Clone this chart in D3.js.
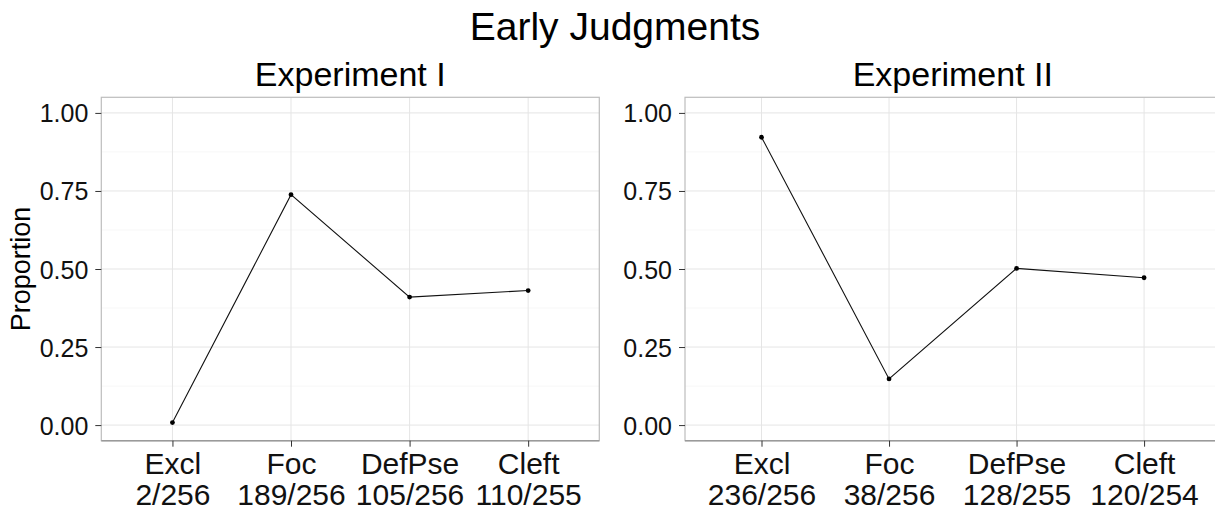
<!DOCTYPE html>
<html>
<head>
<meta charset="utf-8">
<script src="https://cdn.jsdelivr.net/npm/d3@7"></script>
<style>
body { margin: 0; background: #fff; }
svg { display: block; font-family: "Liberation Sans", Arial, sans-serif; }
.grid-major line { stroke: #e5e5e5; stroke-width: 1; }
.grid-minor line { stroke: #f7f7f7; stroke-width: 1; }
.axis path { display: none; }
.axis line { stroke: #333; }
.axis text { fill: #111; }
</style>
</head>
<body>
<svg id="chart" width="1215" height="510"></svg>
<script>
var categories = ["Excl", "Foc", "DefPse", "Cleft"];

// experiment I
var exp1Counts = ["2/256", "189/256", "105/256", "110/255"];
var exp1Values = [0.008, 0.738, 0.410, 0.431];

// experiment II
var exp2Counts = ["236/256", "38/256", "128/255", "120/254"];
var exp2Values = [0.922, 0.148, 0.502, 0.472];

var yTicks = [0, 0.25, 0.5, 0.75, 1];
var yMinor = [0.125, 0.375, 0.625, 0.875];

var svg = d3.select("#chart");

var plotTop = 97.3, plotBottom = 440.7;

var yScale = d3.scaleLinear()
    .domain([-0.05, 1.05])
    .range([plotBottom, plotTop]);

svg.append("text")
    .attr("x", 615)
    .attr("y", 40)
    .attr("text-anchor", "middle")
    .attr("font-size", 39)
    .text("Early Judgments");

svg.append("text")
    .attr("transform", "translate(30," + ((plotTop + plotBottom) / 2) + ") rotate(-90)")
    .attr("text-anchor", "middle")
    .attr("font-size", 27)
    .text("Proportion");

function drawPanel(title, left, right, values, counts) {
    var g = svg.append("g");

    var xScale = d3.scalePoint()
        .domain(categories)
        .range([left, right])
        .padding(0.6);

    g.append("text")
        .attr("x", (left + right) / 2)
        .attr("y", 86)
        .attr("text-anchor", "middle")
        .attr("font-size", 34)
        .text(title);

    g.append("rect")
        .attr("x", left).attr("y", plotTop)
        .attr("width", right - left).attr("height", plotBottom - plotTop)
        .attr("fill", "#fff");

    g.append("g").attr("class", "grid-minor")
        .selectAll("line").data(yMinor).enter().append("line")
        .attr("x1", left).attr("x2", right)
        .attr("y1", function(d){ return yScale(d); })
        .attr("y2", function(d){ return yScale(d); });

    g.append("g").attr("class", "grid-major")
        .selectAll("line").data(yTicks).enter().append("line")
        .attr("x1", left).attr("x2", right)
        .attr("y1", function(d){ return yScale(d); })
        .attr("y2", function(d){ return yScale(d); });

    g.append("g").attr("class", "grid-major")
        .selectAll("line").data(categories).enter().append("line")
        .attr("x1", function(d){ return xScale(d); })
        .attr("x2", function(d){ return xScale(d); })
        .attr("y1", plotTop).attr("y2", plotBottom);

    g.append("rect")
        .attr("x", left).attr("y", plotTop)
        .attr("width", right - left).attr("height", plotBottom - plotTop)
        .attr("fill", "none")
        .attr("stroke", "#bdbdbd")
        .attr("stroke-width", 1.2);

    g.append("line")
        .attr("x1", left).attr("x2", right)
        .attr("y1", plotBottom).attr("y2", plotBottom)
        .attr("stroke", "#9a9a9a")
        .attr("stroke-width", 1.5);

    // y axis
    var gY = g.append("g")
        .attr("class", "axis")
        .attr("transform", "translate(" + left + ",0)")
        .call(d3.axisLeft(yScale).tickValues(yTicks).tickFormat(d3.format(".2f"))
            .tickSize(6).tickPadding(7));
    gY.selectAll("text").attr("font-size", 25).attr("dy", "0.36em");

    // x axis, two line labels
    var gX = g.append("g")
        .attr("class", "axis")
        .attr("transform", "translate(0," + plotBottom + ")")
        .call(d3.axisBottom(xScale).tickSize(6).tickFormat(""));
    gX.selectAll(".tick").each(function(d, i) {
        var t = d3.select(this).append("text")
            .attr("text-anchor", "middle")
            .attr("font-size", 30)
            .attr("fill", "#111");
        t.append("tspan").attr("x", 0).attr("y", 33.5).text(d);
        t.append("tspan").attr("x", 0).attr("y", 64.5).text(counts[i]);
    });

    var line = d3.line()
        .x(function(d, i){ return xScale(categories[i]); })
        .y(function(d){ return yScale(d); });

    g.append("path")
        .datum(values)
        .attr("d", line)
        .attr("fill", "none")
        .attr("stroke", "#111")
        .attr("stroke-width", 1.1);

    g.selectAll("circle.pt").data(values).enter().append("circle")
        .attr("class", "pt")
        .attr("cx", function(d, i){ return xScale(categories[i]); })
        .attr("cy", function(d){ return yScale(d); })
        .attr("r", 2.4)
        .attr("fill", "#000");
}

drawPanel("Experiment I", 101.3, 599.3, exp1Values, exp1Counts);
drawPanel("Experiment II", 685, 1220.6, exp2Values, exp2Counts);
</script>
</body>
</html>
